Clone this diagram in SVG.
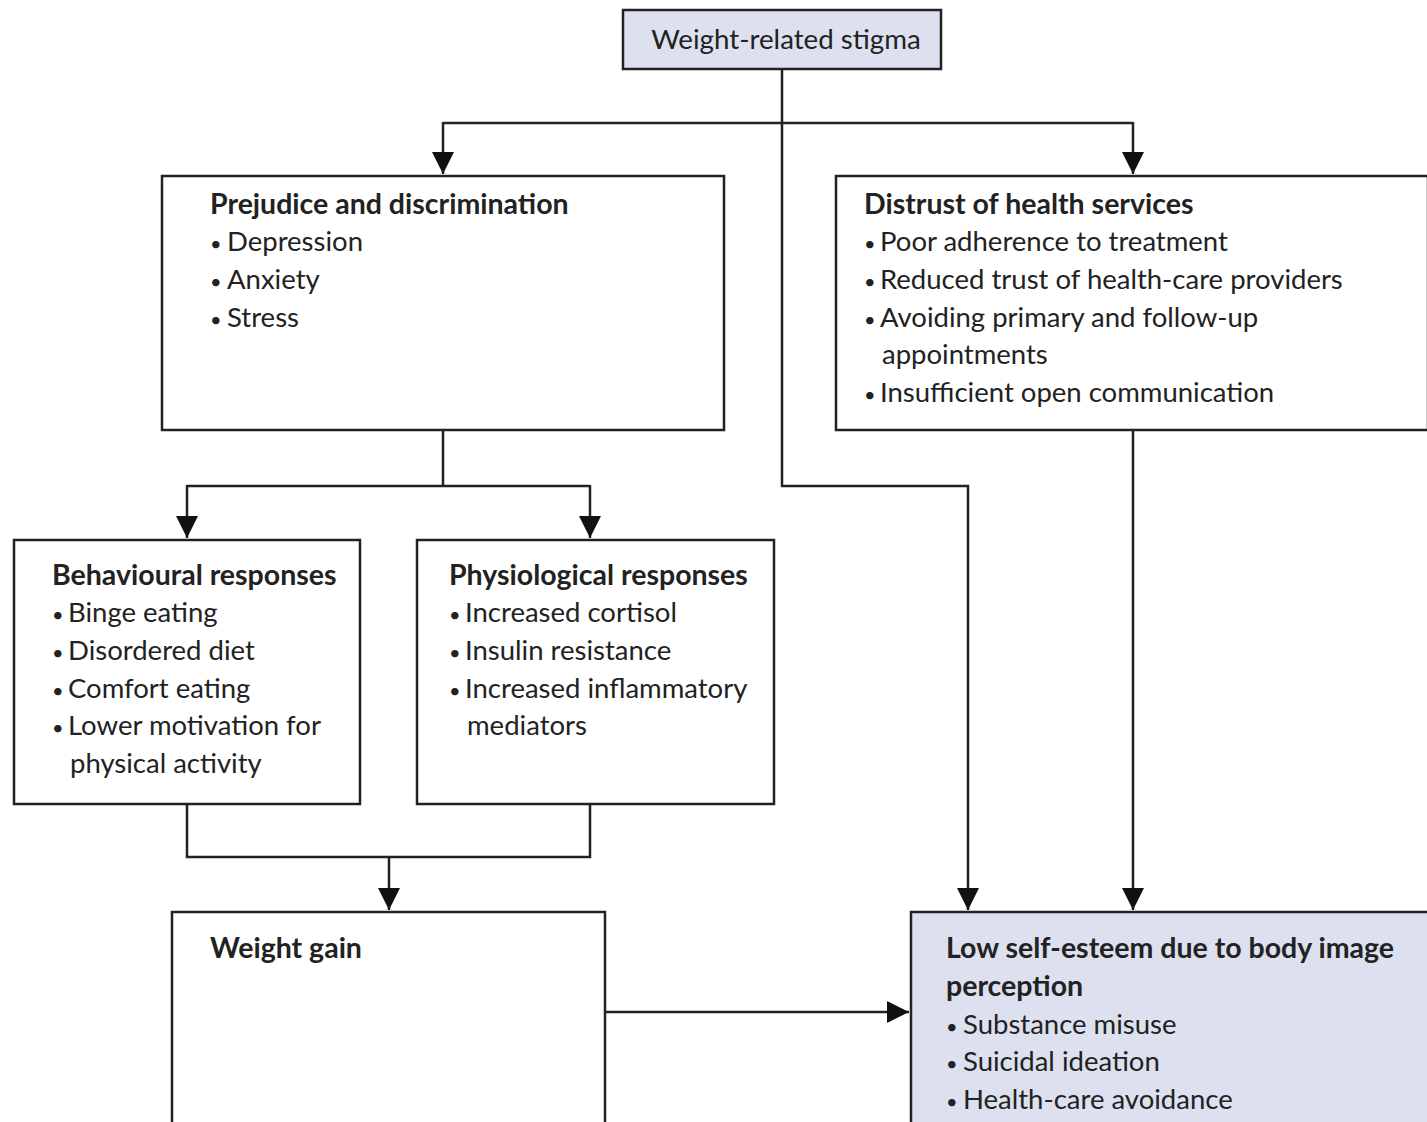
<svg xmlns="http://www.w3.org/2000/svg" width="1427" height="1122" viewBox="0 0 1427 1122">
<style>
.box{fill:#ffffff;stroke:#222;stroke-width:2.5}
.hl{fill:#dde0ef}
text{font-family:Lato,"Open Sans","Liberation Sans",sans-serif;font-size:27.5px;fill:#222}
.b{font-weight:bold;font-size:28.5px}
.t{font-size:27.7px}
.d{font-size:20px}
.c{fill:none;stroke:#222;stroke-width:2.5}
</style>
<defs>
<marker id="ah" markerUnits="userSpaceOnUse" markerWidth="24" markerHeight="24" viewBox="0 0 24 24" refX="22" refY="12" orient="auto">
<path d="M0,1 L22,12 L0,23 Z" fill="#111"/>
</marker>
</defs>
<rect width="1427" height="1122" fill="#ffffff"/>
<g id="connectors">
<path class="c" d="M782,69 V486 H968 V910" marker-end="url(#ah)"/>
<path class="c" d="M443,123 H1133"/>
<path class="c" d="M443,122 V174" marker-end="url(#ah)"/>
<path class="c" d="M1133,122 V174" marker-end="url(#ah)"/>
<path class="c" d="M443,430 V486"/>
<path class="c" d="M187,486 H590"/>
<path class="c" d="M187,485 V538" marker-end="url(#ah)"/>
<path class="c" d="M590,485 V538" marker-end="url(#ah)"/>
<path class="c" d="M187,804 V857 H590 V804"/>
<path class="c" d="M389,857 V910" marker-end="url(#ah)"/>
<path class="c" d="M1133,430 V910" marker-end="url(#ah)"/>
<path class="c" d="M605,1012 H909" marker-end="url(#ah)"/>
</g>
<g id="node-stigma">
<rect class="box hl" x="623" y="10" width="318" height="59"/>
<text class="t" x="786" y="49" text-anchor="middle">Weight-related stigma</text>
</g>
<g id="node-prejudice">
<rect class="box" x="162" y="176" width="562" height="254"/>
<text class="b" x="210" y="214">Prejudice and discrimination</text>
<text x="210" y="251"><tspan class="d">•</tspan><tspan x="227">Depression</tspan></text>
<text x="210" y="289"><tspan class="d">•</tspan><tspan x="227">Anxiety</tspan></text>
<text x="210" y="327"><tspan class="d">•</tspan><tspan x="227">Stress</tspan></text>
</g>
<g id="node-distrust">
<rect class="box" x="836" y="176" width="592" height="254"/>
<text class="b" x="864" y="214">Distrust of health services</text>
<text x="864" y="251"><tspan class="d">•</tspan><tspan x="880">Poor adherence to treatment</tspan></text>
<text x="864" y="289"><tspan class="d">•</tspan><tspan x="880">Reduced trust of health-care providers</tspan></text>
<text x="864" y="327"><tspan class="d">•</tspan><tspan x="880">Avoiding primary and follow-up</tspan></text>
<text x="882" y="364">appointments</text>
<text x="864" y="402"><tspan class="d">•</tspan><tspan x="880">Insufficient open communication</tspan></text>
</g>
<g id="node-behavioural">
<rect class="box" x="14" y="540" width="346" height="264"/>
<text class="b" x="52" y="585">Behavioural responses</text>
<text x="52" y="622"><tspan class="d">•</tspan><tspan x="68">Binge eating</tspan></text>
<text x="52" y="660"><tspan class="d">•</tspan><tspan x="68">Disordered diet</tspan></text>
<text x="52" y="698"><tspan class="d">•</tspan><tspan x="68">Comfort eating</tspan></text>
<text x="52" y="735"><tspan class="d">•</tspan><tspan x="68">Lower motivation for</tspan></text>
<text x="70" y="773">physical activity</text>
</g>
<g id="node-physiological">
<rect class="box" x="417" y="540" width="357" height="264"/>
<text class="b" x="449" y="585">Physiological responses</text>
<text x="449" y="622"><tspan class="d">•</tspan><tspan x="465">Increased cortisol</tspan></text>
<text x="449" y="660"><tspan class="d">•</tspan><tspan x="465">Insulin resistance</tspan></text>
<text x="449" y="698"><tspan class="d">•</tspan><tspan x="465">Increased inflammatory</tspan></text>
<text x="467" y="735">mediators</text>
</g>
<g id="node-weightgain">
<rect class="box" x="172" y="912" width="433" height="215"/>
<text class="b" x="210" y="958">Weight gain</text>
</g>
<g id="node-selfesteem">
<rect class="box hl" x="911" y="912" width="520" height="215"/>
<text class="b" x="946" y="958">Low self-esteem due to body image</text>
<text class="b" x="946" y="996">perception</text>
<text x="946" y="1034"><tspan class="d">•</tspan><tspan x="963">Substance misuse</tspan></text>
<text x="946" y="1071"><tspan class="d">•</tspan><tspan x="963">Suicidal ideation</tspan></text>
<text x="946" y="1109"><tspan class="d">•</tspan><tspan x="963">Health-care avoidance</tspan></text>
</g>
</svg>
